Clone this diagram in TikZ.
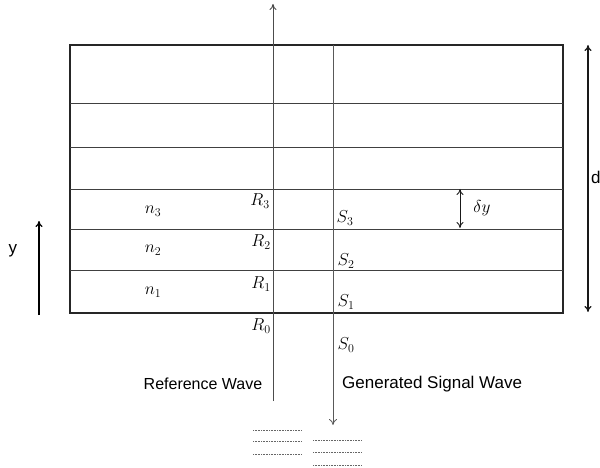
\documentclass[tikz,border=0pt]{standalone}
\usepackage{fontspec}
\setsansfont{Liberation Sans}
\usetikzlibrary{arrows.meta}
\begin{document}
\begin{tikzpicture}[x=1pt,y=-1pt,
  box/.style={line width=1.1pt,draw=black!85},
  layer/.style={line width=0.9pt,draw=black!75},
  refwave/.style={line width=1pt,draw=black!70,-{To[length=6pt,width=7pt]}},
  sigwave/.style={line width=0.8pt,draw=black!65,-{To[length=6pt,width=8pt]}},
  dimarrow/.style={line width=1.1pt,draw=black!90,{To[length=6pt,width=7pt]}-{To[length=6pt,width=7pt]}},
  yarrow/.style={line width=1.2pt,draw=black,-{To[length=6pt,width=7pt]}},
  mlabel/.style={font=\fontsize{18}{20}\selectfont,inner sep=0pt},
  tlabel/.style={font=\sffamily\fontsize{16}{18}\selectfont,inner sep=0pt},
  dots/.style={line width=0.8pt,draw=black!60,dash pattern=on 1pt off 0.6pt}]
\useasboundingbox (0,0) rectangle (600,468);
% layer stack
\coordinate (tl) at (70,45);
\coordinate (br) at (563,313);
\draw[box] (tl) rectangle (br);
\foreach \yy/\nm in {103/a,147/b,189/c,229/d,270/e}{
  \coordinate (L\nm) at (70,\yy);
  \coordinate (R\nm) at (563,\yy);
  \draw[layer] (L\nm) -- (R\nm);
}
% waves
\coordinate (refbot) at (273,401);
\coordinate (reftop) at (273,4);
\draw[refwave] (refbot) -- (reftop);
\coordinate (sigtop) at (333,45);
\coordinate (sigbot) at (333,425);
\draw[sigwave] (sigtop) -- (sigbot);
% d dimension
\coordinate (dtop) at (588,45);
\coordinate (dbot) at (588,312);
\draw[dimarrow] (dtop) -- (dbot);
\node[tlabel,anchor=west,font=\sffamily\fontsize{17}{19}\selectfont] (dlab) at (591,177) {d};
% delta y
\coordinate (dyt) at (460,189);
\coordinate (dyb) at (460,228);
\draw[dimarrow,line width=0.9pt] (dyt) -- (dyb);
\node[mlabel] (dylab) at (482,208) {$\delta y$};
% y arrow
\coordinate (ybot) at (39,315);
\coordinate (ytop) at (39,221);
\draw[yarrow] (ybot) -- (ytop);
\node[tlabel,font=\sffamily\fontsize{17}{19}\selectfont] (ylab) at (13,251) {y};
% indices
\node[mlabel] (n3) at (153,211) {$n_3$};
\node[mlabel] (n2) at (153,250) {$n_2$};
\node[mlabel] (n1) at (153,292) {$n_1$};
\node[mlabel] (R3) at (260,201) {$R_3$};
\node[mlabel] (R2) at (261,242) {$R_2$};
\node[mlabel] (R1) at (261,284) {$R_1$};
\node[mlabel] (R0) at (261,326) {$R_0$};
\node[mlabel] (S3) at (345,218) {$S_3$};
\node[mlabel] (S2) at (346,261) {$S_2$};
\node[mlabel] (S1) at (346,302) {$S_1$};
\node[mlabel] (S0) at (346,345) {$S_0$};
% captions
\node[tlabel] (refcap) at (203,384) {Reference Wave};
\node[tlabel,anchor=west,font=\sffamily\fontsize{17}{19}\selectfont] (sigcap) at (342,384) {Generated Signal Wave};
% dotted strokes at bottom
\foreach \yy/\nm in {430/a,441/b,454/c}{
  \coordinate (dl\nm) at (253,\yy); \coordinate (dr\nm) at (302,\yy);
  \draw[dots] (dl\nm) -- (dr\nm);
}
\foreach \yy/\nm in {440/a,452/b,465/c}{
  \coordinate (el\nm) at (313,\yy); \coordinate (er\nm) at (362,\yy);
  \draw[dots] (el\nm) -- (er\nm);
}
\end{tikzpicture}
\end{document}
